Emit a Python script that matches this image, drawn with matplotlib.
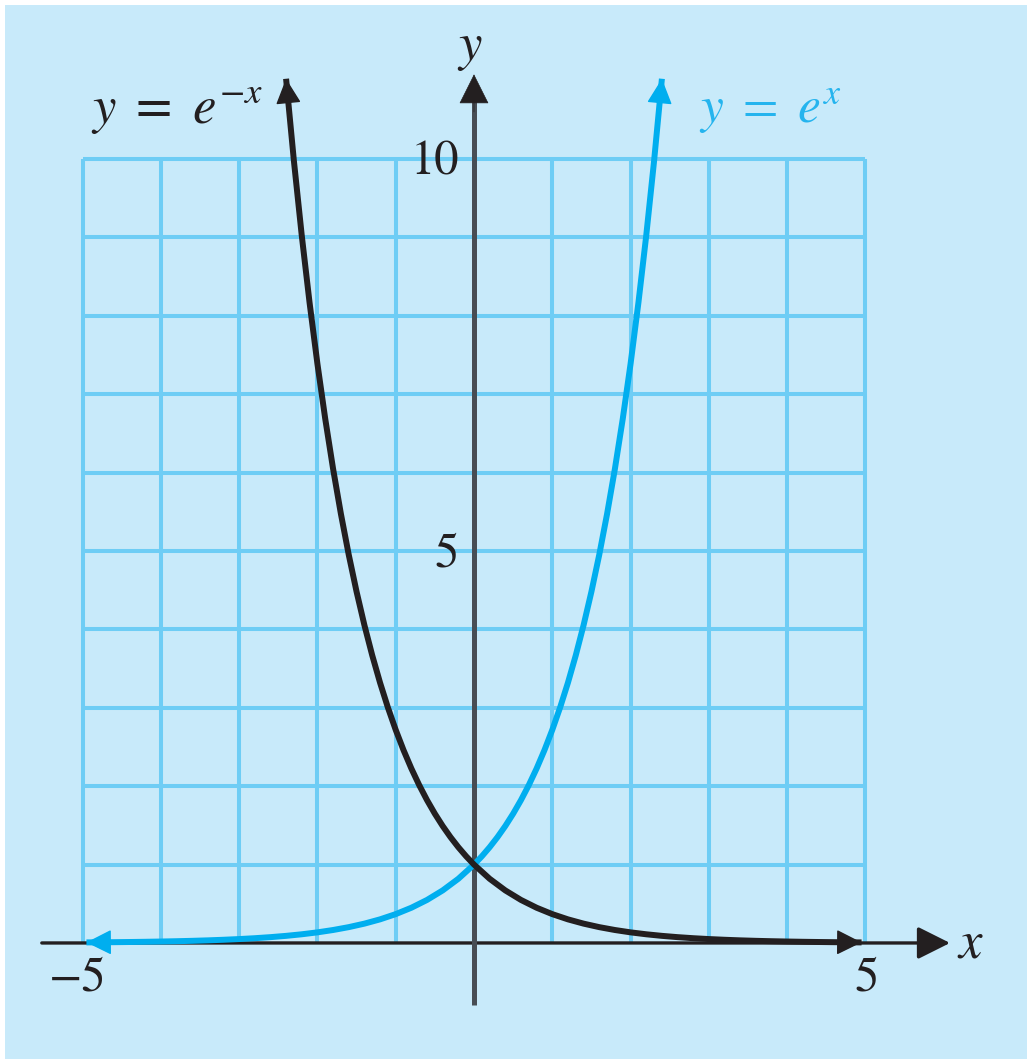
import matplotlib.pyplot as plt

# curve readings
blue_x = [-4.95, -4.8, -4.6, -4.4, -4.2, -4.0, -3.8, -3.6, -3.4, -3.2, -3.0,
          -2.8, -2.6, -2.4, -2.2, -2.0, -1.8, -1.6, -1.4, -1.2, -1.0, -0.8,
          -0.6, -0.4, -0.2, 0.0, 0.1, 0.2, 0.3, 0.4, 0.5, 0.6, 0.7, 0.8, 0.9,
          1.0, 1.1, 1.2, 1.3, 1.4, 1.5, 1.6, 1.7, 1.8, 1.9, 2.0, 2.1, 2.2,
          2.3, 2.4]
blue_y = [0.0071, 0.0082, 0.0101, 0.0123, 0.0150, 0.0183, 0.0224, 0.0273,
          0.0334, 0.0408, 0.0498, 0.0608, 0.0743, 0.0907, 0.1108, 0.1353,
          0.1653, 0.2019, 0.2466, 0.3012, 0.3679, 0.4493, 0.5488, 0.6703,
          0.8187, 1.0, 1.1052, 1.2214, 1.3499, 1.4918, 1.6487, 1.8221,
          2.0138, 2.2255, 2.4596, 2.7183, 3.0042, 3.3201, 3.6693, 4.0552,
          4.4817, 4.9530, 5.4739, 6.0496, 6.6859, 7.3891, 8.1662, 9.0250,
          9.9742, 11.0232]

black_x = [-2.4, -2.3, -2.2, -2.1, -2.0, -1.9, -1.8, -1.7, -1.6, -1.5, -1.4,
           -1.3, -1.2, -1.1, -1.0, -0.9, -0.8, -0.7, -0.6, -0.5, -0.4, -0.3,
           -0.2, -0.1, 0.0, 0.2, 0.4, 0.6, 0.8, 1.0, 1.2, 1.4, 1.6, 1.8, 2.0,
           2.2, 2.4, 2.6, 2.8, 3.0, 3.2, 3.4, 3.6, 3.8, 4.0, 4.2, 4.4, 4.6,
           4.8, 4.95]
black_y = [11.0232, 9.9742, 9.0250, 8.1662, 7.3891, 6.6859, 6.0496, 5.4739,
           4.9530, 4.4817, 4.0552, 3.6693, 3.3201, 3.0042, 2.7183, 2.4596,
           2.2255, 2.0138, 1.8221, 1.6487, 1.4918, 1.3499, 1.2214, 1.1052,
           1.0, 0.8187, 0.6703, 0.5488, 0.4493, 0.3679, 0.3012, 0.2466,
           0.2019, 0.1653, 0.1353, 0.1108, 0.0907, 0.0743, 0.0608, 0.0498,
           0.0408, 0.0334, 0.0273, 0.0224, 0.0183, 0.0150, 0.0123, 0.0101,
           0.0082, 0.0071]

grid_x = [-5, -4, -3, -2, -1, 1, 2, 3, 4, 5]
grid_y = [1, 2, 3, 4, 5, 6, 7, 8, 9, 10]
x_ticks = [-5, 5]
x_tick_labels = ["\u22125", "5"]
y_ticks = [5, 10]
y_tick_labels = ["5", "10"]

bg = "#c8eafa"
gridc = "#6ecdf5"
blue = "#00aeef"
dark = "#231f20"

plt.rcParams["mathtext.fontset"] = "stix"

fig = plt.figure(figsize=(10.27, 10.59), dpi=100, facecolor="white")
ax = fig.add_axes([5 / 1027, 0, 1022 / 1027, 1054 / 1059])
ax.set_facecolor(bg)
ax.set_xlim(-5.99, 7.063)
ax.set_ylim(-1.48, 11.964)
ax.set_xticks([])
ax.set_yticks([])
for s in ax.spines.values():
    s.set_visible(False)

# grid
ax.vlines(grid_x, 0, 10, color=gridc, lw=2.9, zorder=1)
ax.hlines(grid_y, -5, 5, color=gridc, lw=2.9, zorder=1)

# axes lines with arrows
ax.annotate("", xy=(6.08, 0), xytext=(-5.52, 0),
            arrowprops=dict(arrowstyle="-|>,head_length=1.0,head_width=0.5",
                            mutation_scale=20, color=dark, lw=2.4,
                            shrinkA=0, shrinkB=0), zorder=3)
ax.plot([0, 0], [-0.79, 10.9], color="#474d54", lw=3.6, zorder=3,
        solid_capstyle="butt")
ax.annotate("", xy=(0, 11.08), xytext=(0, 10.6),
            arrowprops=dict(arrowstyle="-|>,head_length=1.0,head_width=0.5",
                            mutation_scale=20, color=dark, lw=0.5,
                            shrinkA=0, shrinkB=0), zorder=3)

# curves
ax.plot(blue_x, blue_y, color=blue, lw=4.3, zorder=4, solid_capstyle="butt")
ax.plot(black_x, black_y, color=dark, lw=4.3, zorder=5, solid_capstyle="butt")

arrow_style = "-|>,head_length=0.8,head_width=0.4"
for xs, ys, c in [(blue_x, blue_y, blue), (black_x, black_y, dark)]:
    ax.annotate("", xy=(xs[-1], ys[-1]), xytext=(xs[-2], ys[-2]),
                arrowprops=dict(arrowstyle=arrow_style, mutation_scale=20,
                                color=c, lw=1, shrinkA=0, shrinkB=0), zorder=6)
    ax.annotate("", xy=(xs[0], ys[0]), xytext=(xs[1], ys[1]),
                arrowprops=dict(arrowstyle=arrow_style, mutation_scale=20,
                                color=c, lw=1, shrinkA=0, shrinkB=0), zorder=6)

# tick labels
for v, t in zip(x_ticks, x_tick_labels):
    ax.text(v + (-0.06 if v < 0 else 0.02), -0.6, t, fontsize=35,
            family="STIXGeneral", color=dark, ha="center", va="baseline")
for v, t in zip(y_ticks, y_tick_labels):
    ax.text(-0.19, v - 0.2, t, fontsize=35, family="STIXGeneral",
            color=dark, ha="right", va="baseline")

# axis names
ax.text(-0.05, 11.26, "$y$", fontsize=38, color=dark, ha="center", va="baseline")
ax.text(6.17, -0.18, "$x$", fontsize=38, color=dark, ha="left", va="baseline")

# curve labels
ax.text(-4.89, 10.46, r"$y\ =\ e^{-x}$", fontsize=38, color=dark,
        ha="left", va="baseline")
ax.text(2.87, 10.46, r"$y\ =\ e^{x}$", fontsize=37, color="#25b4ee",
        ha="left", va="baseline")

fig.savefig("out.png", dpi=100, facecolor="white")
